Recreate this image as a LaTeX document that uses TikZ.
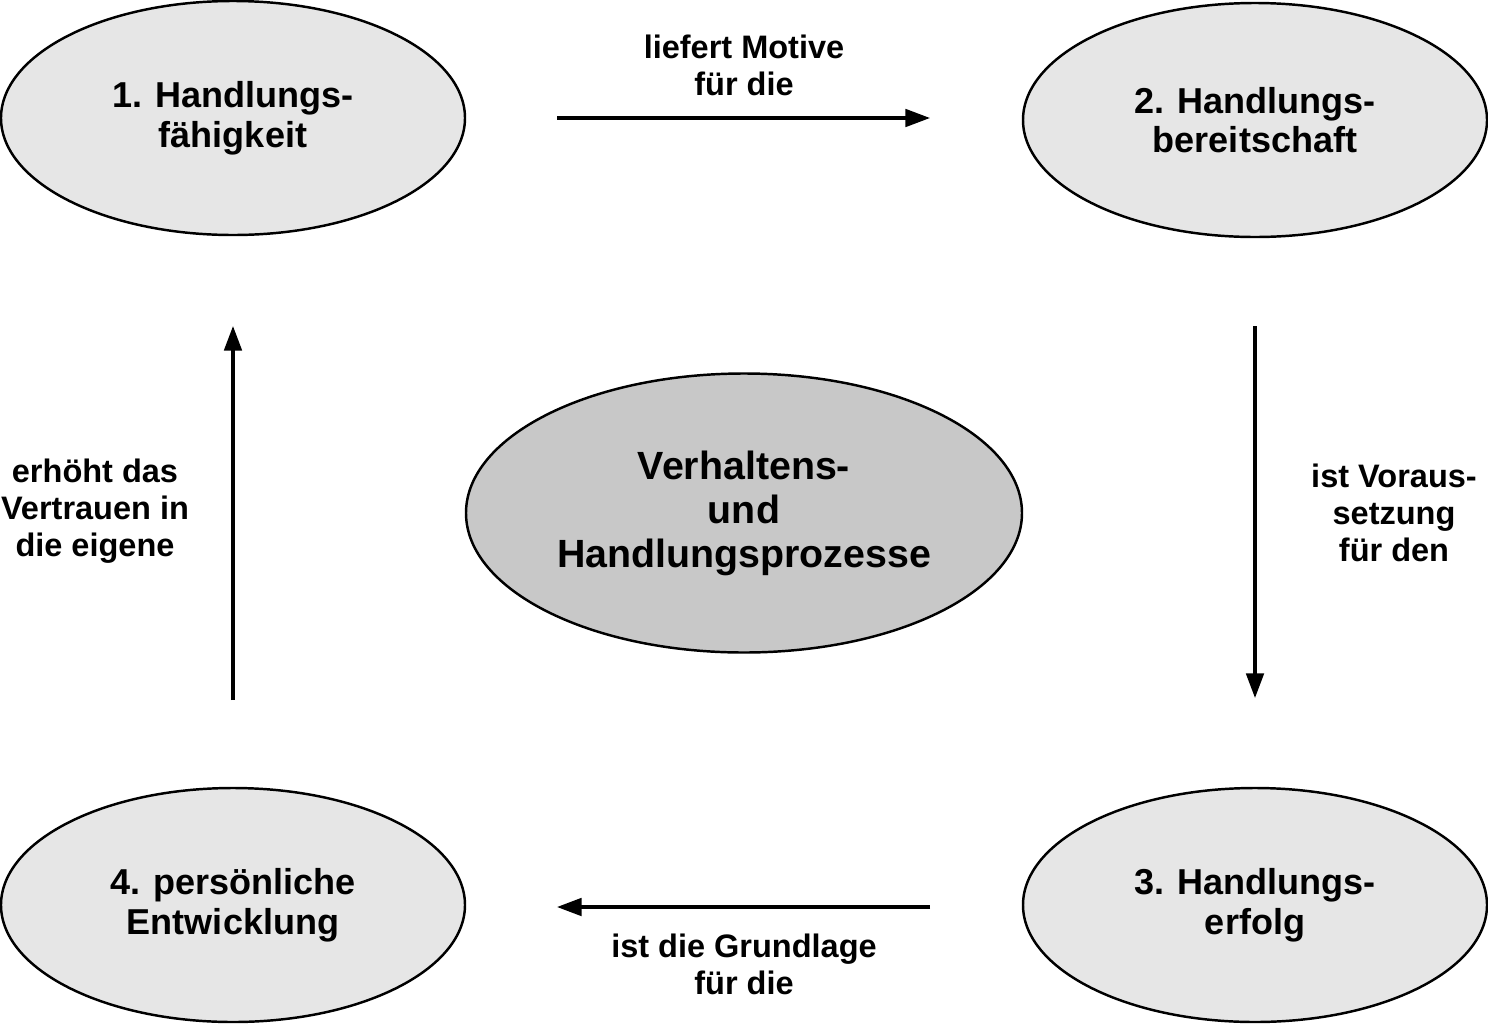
\documentclass[tikz,border=0pt]{standalone}
\usepackage{fontspec}
\setmainfont{Liberation Sans}
\usetikzlibrary{shapes.geometric,arrows.meta}

\begin{document}
\begin{tikzpicture}[x=0.02cm,y=-0.02cm,
    stage/.style={ellipse, draw=black, line width=1.4pt, fill=stagegray, minimum width=464*0.02cm, minimum height=234*0.02cm, align=center, font=\bfseries\fontsize{20.5}{22.5}\selectfont},
    flow/.style={-{Triangle[length=14pt,width=10pt]}, line width=1.8pt},
    flowlabel/.style={align=center, font=\bfseries\fontsize{18.5}{21}\selectfont}]
    \definecolor{stagegray}{HTML}{E6E6E6}
    \definecolor{coregray}{HTML}{C8C8C8}

    \useasboundingbox (0,0) rectangle (1488,1025);

    \node[stage] (faehigkeit) at (233,118) {1. Handlungs-\\fähigkeit};
    \node[stage] (bereitschaft) at (1255,120) {2. Handlungs-\\bereitschaft};
    \node[stage] (erfolg) at (1255,905) {3. Handlungs-\\erfolg};
    \node[stage] (entwicklung) at (233,905) {4. persönliche\\Entwicklung};
    \node[ellipse, draw=black, line width=1.4pt, fill=coregray, minimum width=556*0.02cm, minimum height=279*0.02cm, align=center, font=\bfseries\fontsize{22.4}{25}\selectfont] (prozesse) at (744,513) {Verhaltens-\\und\\Handlungsprozesse};

    \coordinate (top_start) at (557,118);
    \coordinate (top_end) at (930,118);
    \coordinate (right_start) at (1255,326);
    \coordinate (right_end) at (1255,698);
    \coordinate (bottom_start) at (930,907);
    \coordinate (bottom_end) at (557,907);
    \coordinate (left_start) at (233,700);
    \coordinate (left_end) at (233,326);

    \draw[flow] (top_start) -- (top_end);
    \draw[flow] (right_start) -- (right_end);
    \draw[flow] (bottom_start) -- (bottom_end);
    \draw[flow] (left_start) -- (left_end);

    \node[flowlabel] (motive) at (744,65) {liefert Motive\\für die};
    \node[flowlabel] (voraussetzung) at (1394,513) {ist Voraus-\\setzung\\für den};
    \node[flowlabel] (grundlage) at (744,964) {ist die Grundlage\\für die};
    \node[flowlabel] (vertrauen) at (95,511) {erhöht das\\Vertrauen in\\die eigene};
\end{tikzpicture}
\end{document}
